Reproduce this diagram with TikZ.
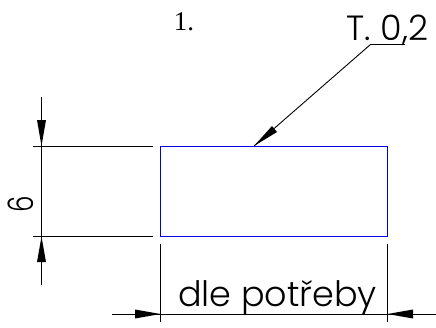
\documentclass[tikz,border=0pt]{standalone}
\usepackage{graphicx}
\usepackage{fontspec}
\setmainfont{Poppins Light}
\newfontfamily\serifnum{Liberation Serif}
\begin{document}
\begin{tikzpicture}[x=1pt,y=-1pt,
  dimline/.style={black,line width=0.9pt},
  part/.style={draw=blue!90!black,line width=0.9pt,minimum width=227pt,minimum height=90.5pt,inner sep=0pt,outer sep=0pt,anchor=north west},
  head/.style={fill=black,draw=none},
  label/.style={inner sep=0pt,black}]
\useasboundingbox (0,0) rectangle (436,327);
\node[part] (R) at (160.5,146) {};
% extension lines
\coordinate (E1a) at (33,146); \coordinate (E1b) at (153,146);
\coordinate (E2a) at (33,236.5); \coordinate (E2b) at (153,236.5);
\draw[dimline] (E1a) -- (E1b);
\draw[dimline] (E2a) -- (E2b);
\coordinate (E3a) at (160.5,243.5); \coordinate (E3b) at (160.5,322);
\coordinate (E4a) at (387.5,243.5); \coordinate (E4b) at (387.5,322);
\draw[dimline] (E3a) -- (E3b);
\draw[dimline] (E4a) -- (E4b);
% vertical dimension
\coordinate (V1) at (41.5,97); \coordinate (V2) at (41.5,285);
\draw[dimline] (V1) -- (V2);
\fill[head] (41.5,146) -- (37,120) -- (46,120) -- cycle;
\fill[head] (41.5,236.5) -- (37,262) -- (46,262) -- cycle;
% horizontal dimension
\coordinate (H1) at (112,314); \coordinate (H2) at (436,314);
\draw[dimline] (H1) -- (H2);
\fill[head] (160.5,314) -- (135,309.5) -- (135,318.5) -- cycle;
\fill[head] (387.5,314) -- (413,309.5) -- (413,318.5) -- cycle;
% leader
\coordinate (L0) at (254,146); \coordinate (L1) at (370.5,44.5); \coordinate (L2) at (405,44.5);
\draw[dimline] (L0) -- (L1) -- (L2);
\fill[head] (L0) -- (272,126) -- (277,132) -- cycle;
% labels
\node[label,anchor=base,font=\fontsize{35}{38}\selectfont] (dim) at (277.5,306) {dle potřeby};
\node[label,font=\fontsize{35}{38}\selectfont,rotate=90] (six) at (21,204.5) {\scalebox{0.75}[1]{6}};
\node[label,anchor=base,font=\fontsize{35}{38}\selectfont] (tol) at (387.5,40) {T. 0,2};
\node[label,anchor=base,font=\serifnum\fontsize{27}{30}\selectfont] (num) at (184,30) {1.};
\end{tikzpicture}
\end{document}
